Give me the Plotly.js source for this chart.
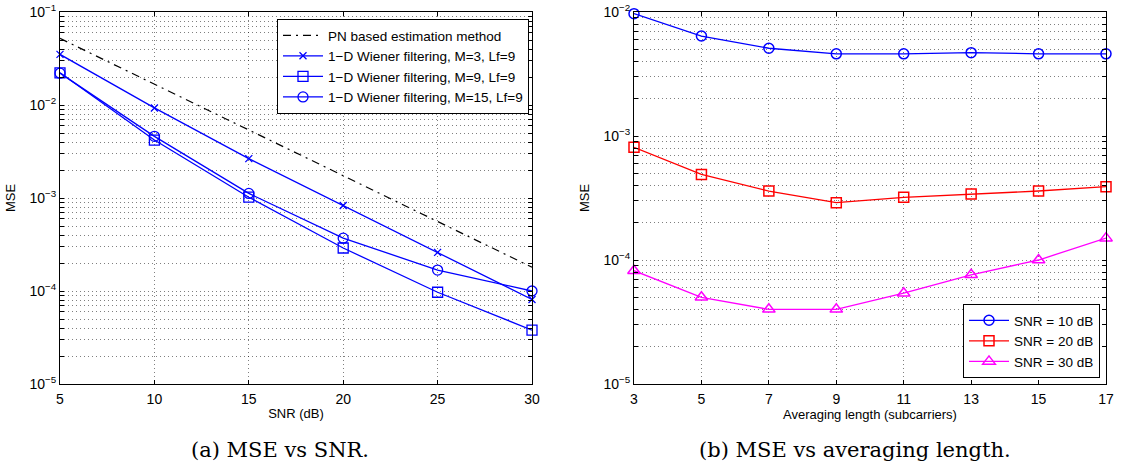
<!DOCTYPE html>
<html><head><meta charset="utf-8">
<script src="https://cdn.plot.ly/plotly-3.0.1.min.js"></script>
<style>html,body{margin:0;padding:0;background:#fff}#chart{width:1128px;height:469px}</style>
</head><body><div id="chart"></div>
<script>
// Left: MSE vs SNR
const snr = [5, 10, 15, 20, 25, 30];
const msePN = [0.052, 0.0168, 0.0054, 0.00175, 0.00056, 0.00018];
const mseM3 = [0.035, 0.0093, 0.00265, 0.00083, 0.00026, 0.000081];
const mseM9 = [0.0222, 0.0042, 0.00102, 0.00029, 0.000097, 0.000038];
const mseM15 = [0.022, 0.0046, 0.00112, 0.00037, 0.000168, 0.0001];
// Right: MSE vs averaging length
const avgLen = [3, 5, 7, 9, 11, 13, 15, 17];
const mseSNR10 = [0.0097, 0.0064, 0.0051, 0.0046, 0.0046, 0.0047, 0.0046, 0.0046];
const mseSNR20 = [0.00081, 0.00049, 0.00036, 0.00029, 0.00032, 0.00034, 0.00036, 0.00039];
const mseSNR30 = [0.000082, 0.00005, 0.00004, 0.00004, 0.000054, 0.000076, 0.0001, 0.00015];

const leftX = [5, 10, 15, 20, 25, 30];
const rightX = [3, 5, 7, 9, 11, 13, 15, 17];

function logTicks(lo, hi) {
  const vals = [], txt = [];
  for (let e = lo; e <= hi; e++) {
    for (let m = 1; m <= 9; m++) {
      if (e === hi && m > 1) break;
      vals.push(m * Math.pow(10, e));
      txt.push(m === 1 ? '10<sup>\u2212' + (-e) + '</sup>' : '');
    }
  }
  return {vals, txt};
}
const lt = logTicks(-5, -1);
const rt = logTicks(-5, -2);

const font = {family: 'Liberation Sans, Arial, sans-serif', size: 14, color: '#000'};
const titleFont = {family: 'Liberation Sans, Arial, sans-serif', size: 13, color: '#000'};
const gridCommon = {
  showgrid: true, gridcolor: 'rgba(0,0,0,0.5)', griddash: '1px,3px', gridwidth: 1,
  showline: true, linecolor: '#000', linewidth: 1, mirror: 'ticks',
  ticks: 'inside', ticklen: 4, tickcolor: '#000', zeroline: false,
  tickfont: font
};

const blue = '#0000ff', red = '#ff0000', mag = '#ff00ff';
const traces = [
  {x: snr, y: msePN, name: 'PN based estimation method', mode: 'lines',
   line: {color: '#000', width: 1.2, dash: '8px,5px,2px,5px'}, xaxis: 'x', yaxis: 'y', legend: 'legend'},
  {x: snr, y: mseM3, name: '1\u2212D Wiener filtering, M=3, Lf=9', mode: 'lines+markers',
   line: {color: blue, width: 1.3}, marker: {symbol: 'x-thin-open', size: 7, color: blue, line: {color: blue, width: 1.3}},
   xaxis: 'x', yaxis: 'y', legend: 'legend', cliponaxis: false},
  {x: snr, y: mseM9, name: '1\u2212D Wiener filtering, M=9, Lf=9', mode: 'lines+markers',
   line: {color: blue, width: 1.3}, marker: {symbol: 'square-open', size: 10, color: blue, line: {color: blue, width: 1.3}},
   xaxis: 'x', yaxis: 'y', legend: 'legend', cliponaxis: false},
  {x: snr, y: mseM15, name: '1\u2212D Wiener filtering, M=15, Lf=9', mode: 'lines+markers',
   line: {color: blue, width: 1.3}, marker: {symbol: 'circle-open', size: 10, color: blue, line: {color: blue, width: 1.3}},
   xaxis: 'x', yaxis: 'y', legend: 'legend', cliponaxis: false},
  {x: avgLen, y: mseSNR10, name: 'SNR = 10 dB', mode: 'lines+markers',
   line: {color: blue, width: 1.3}, marker: {symbol: 'circle-open', size: 10, color: blue, line: {color: blue, width: 1.5}},
   xaxis: 'x2', yaxis: 'y2', legend: 'legend2', cliponaxis: false},
  {x: avgLen, y: mseSNR20, name: 'SNR = 20 dB', mode: 'lines+markers',
   line: {color: red, width: 1.3}, marker: {symbol: 'square-open', size: 10, color: red, line: {color: red, width: 1.5}},
   xaxis: 'x2', yaxis: 'y2', legend: 'legend2', cliponaxis: false},
  {x: avgLen, y: mseSNR30, name: 'SNR = 30 dB', mode: 'lines+markers',
   line: {color: mag, width: 1.3}, marker: {symbol: 'triangle-up-open', size: 11, color: mag, line: {color: mag, width: 1.5}},
   xaxis: 'x2', yaxis: 'y2', legend: 'legend2', cliponaxis: false}
];

const W = 1128, PH = 469 - 12 - 85;
const legFont = {family: 'Liberation Sans, Arial, sans-serif', size: 13.5, color: '#000'};
const capFont = {family: 'DejaVu Serif, Liberation Serif, serif', size: 21, color: '#000'};
const layout = {
  width: 1128, height: 469,
  margin: {l: 0, r: 0, t: 12, b: 85},
  paper_bgcolor: '#fff', plot_bgcolor: '#fff',
  font: font,
  showlegend: true,
  xaxis: Object.assign({}, gridCommon, {
    domain: [60 / W, 532 / W], range: [5, 30], tickvals: leftX, ticktext: leftX.map(String),
    ticklabelstandoff: 2,
    title: {text: 'SNR (dB)', font: titleFont, standoff: 3}, anchor: 'y'
  }),
  yaxis: Object.assign({}, gridCommon, {
    type: 'log', range: [-5, -1], tickvals: lt.vals, ticktext: lt.txt,
    ticklabelstandoff: 0,
    title: {text: 'MSE', font: titleFont, standoff: 10}, anchor: 'x'
  }),
  xaxis2: Object.assign({}, gridCommon, {
    domain: [634 / W, 1106 / W], range: [3, 17], tickvals: rightX, ticktext: rightX.map(String),
    ticklabelstandoff: 2,
    title: {text: 'Averaging length (subcarriers)', font: titleFont, standoff: 3}, anchor: 'y2'
  }),
  yaxis2: Object.assign({}, gridCommon, {
    type: 'log', range: [-5, -2], tickvals: rt.vals, ticktext: rt.txt,
    ticklabelstandoff: 0,
    title: {text: 'MSE', font: titleFont, standoff: 10}, anchor: 'x2'
  }),
  legend: {
    x: 529 / W, y: 1 - (19 - 12) / PH, xanchor: 'right', yanchor: 'top', xref: 'paper', yref: 'paper',
    bgcolor: '#fff', bordercolor: '#000', borderwidth: 1, font: legFont,
    tracegroupgap: 0, itemwidth: 40
  },
  legend2: {
    x: 1100 / W, y: (384 - 378) / PH, xanchor: 'right', yanchor: 'bottom', xref: 'paper', yref: 'paper',
    bgcolor: '#fff', bordercolor: '#000', borderwidth: 1, font: legFont,
    tracegroupgap: 0, itemwidth: 40
  },
  annotations: [
    {text: '(a) MSE vs SNR.', x: 280 / W, y: -(450 - 384) / PH, xref: 'paper', yref: 'paper',
     xanchor: 'center', yanchor: 'middle', showarrow: false, font: capFont},
    {text: '(b) MSE vs averaging length.', x: 855 / W, y: -(450 - 384) / PH, xref: 'paper', yref: 'paper',
     xanchor: 'center', yanchor: 'middle', showarrow: false, font: capFont}
  ]
};

Plotly.newPlot('chart', traces, layout, {displayModeBar: false, staticPlot: true});
</script>
</body></html>
